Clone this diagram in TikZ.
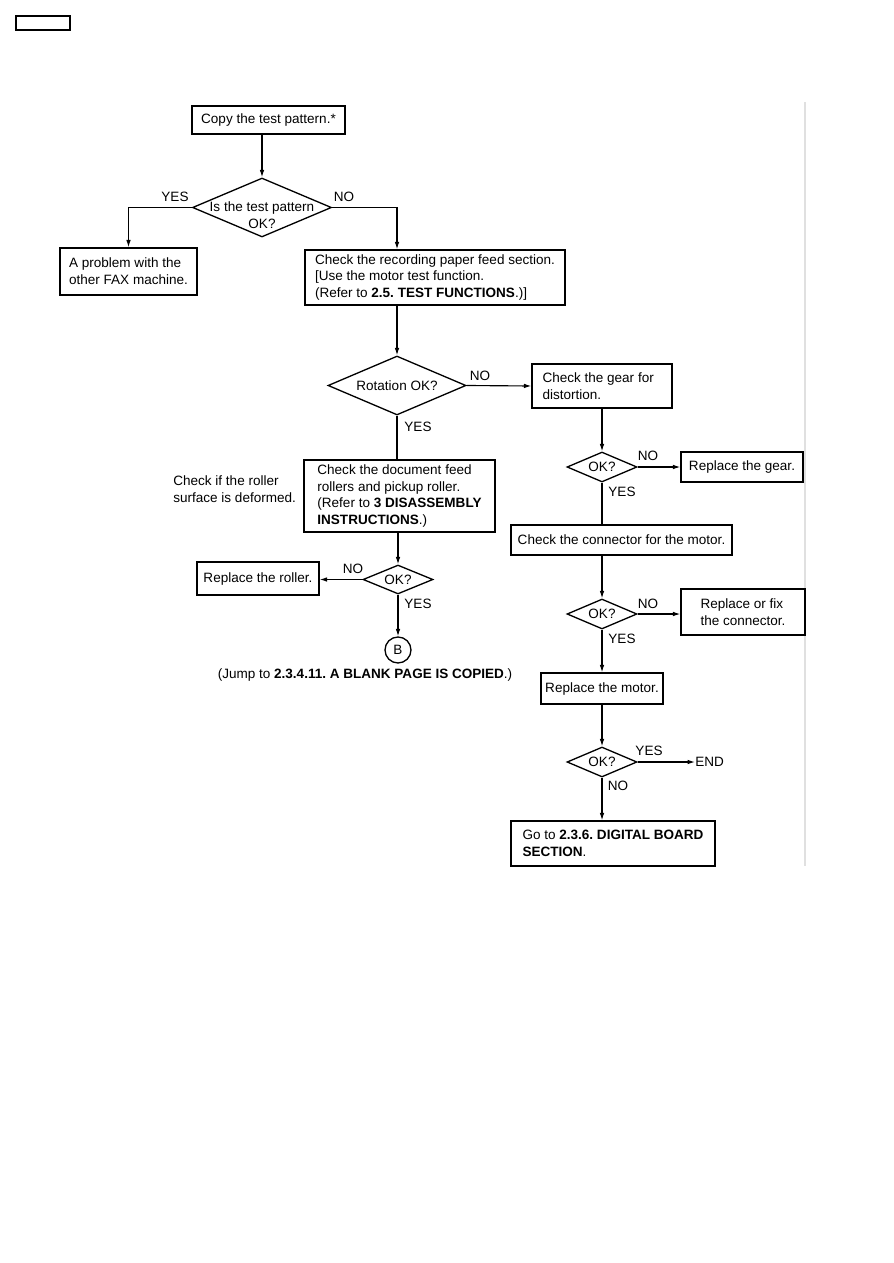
\documentclass[tikz,border=0pt]{standalone}
\usepackage{fontspec}
\setmainfont{Liberation Sans}
\usetikzlibrary{calc, positioning}
\usetikzlibrary{arrows.meta}
\usetikzlibrary{shapes.geometric}

\begin{document}
\frenchspacing
\begin{tikzpicture}[x=0.02cm, y=-0.02cm,
  font=\fontsize{7.7}{9.6}\selectfont,
  box/.style={draw, line width=0.75pt, rectangle, inner xsep=0pt, inner ysep=0pt, align=left},
  test/.style={draw, line width=0.75pt, diamond, inner sep=0pt},
  arr/.style={line width=0.65pt, -{Latex[length=4.2pt, width=2.6pt]}},
  lne/.style={line width=0.65pt},
  lbl/.style={inner sep=0pt}]
\useasboundingbox (0,0) rectangle (893,1263);

\draw[line width=0.8pt] (16,16) rectangle (70,30);
\draw[black!12, line width=0.6pt] (805,102) -- (805,866);

\node[box, minimum width=3.06cm, minimum height=0.56cm] (copy) at (268.5,120)
  {Copy the test pattern.*};
\node[test, minimum width=2.78cm, minimum height=1.18cm,
  label={[align=center, lbl, yshift=-0.16cm]center:Is the test pattern\\OK?}] (d1) at (262,207.5) {};
\node[box, minimum width=2.74cm, minimum height=0.94cm] (problem) at (128.5,271.5)
  {A problem with the\\other FAX machine.};
\node[box, minimum width=5.2cm, minimum height=1.1cm] (record) at (435,277.5)
  {Check the recording paper feed section.\\{}[Use the motor test function.\\(Refer to \textbf{2.5. TEST FUNCTIONS}.)]};
\node[test, minimum width=2.76cm, minimum height=1.18cm,
  label={[lbl]center:Rotation OK?}] (rot) at (397,385.5) {};
\node[box, minimum width=2.8cm, minimum height=0.88cm, text width=2.38cm, align=flush left] (gear) at (602,386)
  {Check the gear for\\distortion.};
\node[test, minimum width=1.4cm, minimum height=0.6cm, label={[lbl]center:OK?}] (d3) at (602,467) {};
\node[box, minimum width=2.44cm, minimum height=0.6cm] (rgear) at (742,467)
  {Replace the gear.};
\node[box, minimum width=4.42cm, minimum height=0.6cm] (conn) at (621.5,540)
  {Check the connector for the motor.};
\node[test, minimum width=1.4cm, minimum height=0.6cm, label={[lbl]center:OK?}] (d4) at (602,614) {};
\node[box, minimum width=2.48cm, minimum height=0.92cm] (rconn) at (743,612)
  {Replace or fix\\the connector.};
\node[box, minimum width=2.44cm, minimum height=0.62cm] (motor) at (602,688.5)
  {Replace the motor.};
\node[test, minimum width=1.4cm, minimum height=0.6cm, label={[lbl]center:OK?}] (d5) at (602,762) {};
\node[lbl, anchor=west] (done) at (695,762) {END};
\node[box, minimum width=4.08cm, minimum height=0.9cm] (digital) at (613,843.5)
  {Go to \textbf{2.3.6. DIGITAL BOARD}\\\textbf{SECTION}.};

\node[box, minimum width=3.82cm, minimum height=1.44cm] (doc) at (399.5,496)
  {Check the document feed\\rollers and pickup roller.\\(Refer to \textbf{3 DISASSEMBLY}\\\textbf{INSTRUCTIONS}.)};
\node[lbl, anchor=west, align=left] (note) at (173,489.5) {Check if the roller\\surface is deformed.};
\node[test, minimum width=1.4cm, minimum height=0.58cm, label={[lbl]center:OK?}] (d6) at (398,579.5) {};
\node[box, minimum width=2.44cm, minimum height=0.66cm] (roller) at (258,578.5)
  {Replace the roller.};
\node[draw, line width=0.75pt, circle, minimum size=0.52cm, inner sep=0pt] (jump) at (398,650) {B};
\node[lbl] (jtext) at (365,675) {(Jump to \textbf{2.3.4.11. A BLANK PAGE IS COPIED}.)};

\node[lbl] (y1) at (175,197) {YES};
\node[lbl] (n1) at (344,197) {NO};
\node[lbl] (n2) at (480,376) {NO};
\node[lbl] (y2) at (418,427) {YES};
\node[lbl] (n3) at (648,456) {NO};
\node[lbl] (y3) at (622,492) {YES};
\node[lbl] (n4) at (648,604) {NO};
\node[lbl] (y4) at (622,639) {YES};
\node[lbl] (y5) at (649,751) {YES};
\node[lbl] (n5) at (618,786) {NO};
\node[lbl] (n6) at (353,569) {NO};
\node[lbl] (y6) at (418,604) {YES};

\draw[arr] (copy.south -| d1.north) -- (d1.north);
\draw[arr] (d1.west) -| (problem.north);
\draw[arr] (d1.east) -| (record.north -| rot.north);
\draw[arr] (record.south -| rot.north) -- (rot.north);
\draw[arr] (rot.east) -- (gear.west);
\draw[arr] (gear.south -| d3.north) -- (d3.north);
\draw[arr] (d3.east) -- (rgear.west);
\draw[lne] (d3.south) -- (conn.north -| d3.south);
\draw[arr] (conn.south -| d4.north) -- (d4.north);
\draw[arr] (d4.east) -- (rconn.west |- d4.east);
\draw[arr] (d4.south) -- (motor.north);
\draw[arr] (motor.south) -- (d5.north);
\draw[arr] (d5.east) -- (done.west);
\draw[arr] (d5.south) -- (digital.north -| d5.south);
\draw[lne] (rot.south) -- (doc.north -| rot.south);
\draw[arr] (doc.south -| d6.north) -- (d6.north);
\draw[arr] (d6.west) -- (roller.east |- d6.west);
\draw[arr] (d6.south) -- (jump.north);
\end{tikzpicture}
\end{document}
